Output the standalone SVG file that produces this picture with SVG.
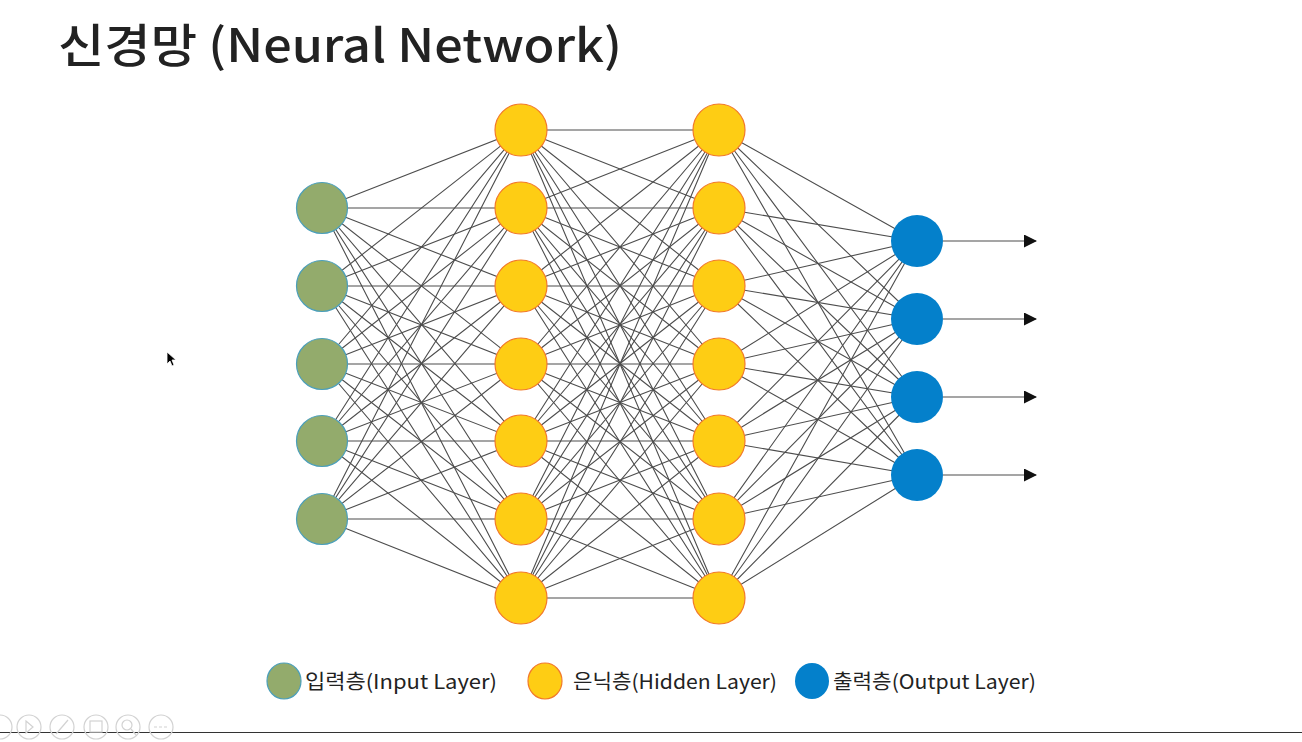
<svg xmlns="http://www.w3.org/2000/svg" width="1302" height="742" viewBox="0 0 1302 742">
<style>
.edge{fill:none;stroke:#4d4d4d;stroke-width:1.1}
.in{fill:#93AB6C;stroke:#4B9FBA;stroke-width:1.2}
.hid{fill:#FECD14;stroke:#F2792A;stroke-width:1.2}
.out{fill:#0480CB}
.title{font-family:"Noto Sans CJK KR","Noto Sans",sans-serif;font-size:46px;font-weight:500;fill:#222}
.leg{font-family:"Noto Sans CJK KR","Noto Sans",sans-serif;font-size:20px;fill:#222}
.ui{fill:none;stroke:#d2d2d2;stroke-width:1.2}
</style>
<defs>
<marker id="arr" markerWidth="13" markerHeight="13" refX="12" refY="6.5" orient="auto" markerUnits="userSpaceOnUse">
<path d="M0 0L13 6.5L0 13Z" fill="#111"/>
</marker>
</defs>
<rect width="1302" height="742" fill="#fff"/>
<text class="title" x="58" y="62" textLength="564" lengthAdjust="spacingAndGlyphs">신경망 (Neural Network)</text>

<g id="connectors">
<path class="edge" d="M322 208L521 130L322 208L521 208L322 208L521 286L322 208L521 364L322 208L521 441L322 208L521 519L322 208L521 598"/>
<path class="edge" d="M322 286L521 130L322 286L521 208L322 286L521 286L322 286L521 364L322 286L521 441L322 286L521 519L322 286L521 598"/>
<path class="edge" d="M322 364L521 130L322 364L521 208L322 364L521 286L322 364L521 364L322 364L521 441L322 364L521 519L322 364L521 598"/>
<path class="edge" d="M322 441L521 130L322 441L521 208L322 441L521 286L322 441L521 364L322 441L521 441L322 441L521 519L322 441L521 598"/>
<path class="edge" d="M322 519L521 130L322 519L521 208L322 519L521 286L322 519L521 364L322 519L521 441L322 519L521 519L322 519L521 598"/>
<path class="edge" d="M521 130L719 130L521 130L719 208L521 130L719 286L521 130L719 364L521 130L719 441L521 130L719 519L521 130L719 598"/>
<path class="edge" d="M521 208L719 130L521 208L719 208L521 208L719 286L521 208L719 364L521 208L719 441L521 208L719 519L521 208L719 598"/>
<path class="edge" d="M521 286L719 130L521 286L719 208L521 286L719 286L521 286L719 364L521 286L719 441L521 286L719 519L521 286L719 598"/>
<path class="edge" d="M521 364L719 130L521 364L719 208L521 364L719 286L521 364L719 364L521 364L719 441L521 364L719 519L521 364L719 598"/>
<path class="edge" d="M521 441L719 130L521 441L719 208L521 441L719 286L521 441L719 364L521 441L719 441L521 441L719 519L521 441L719 598"/>
<path class="edge" d="M521 519L719 130L521 519L719 208L521 519L719 286L521 519L719 364L521 519L719 441L521 519L719 519L521 519L719 598"/>
<path class="edge" d="M521 598L719 130L521 598L719 208L521 598L719 286L521 598L719 364L521 598L719 441L521 598L719 519L521 598L719 598"/>
<path class="edge" d="M719 130L917 241L719 130L917 319L719 130L917 397L719 130L917 475"/>
<path class="edge" d="M719 208L917 241L719 208L917 319L719 208L917 397L719 208L917 475"/>
<path class="edge" d="M719 286L917 241L719 286L917 319L719 286L917 397L719 286L917 475"/>
<path class="edge" d="M719 364L917 241L719 364L917 319L719 364L917 397L719 364L917 475"/>
<path class="edge" d="M719 441L917 241L719 441L917 319L719 441L917 397L719 441L917 475"/>
<path class="edge" d="M719 519L917 241L719 519L917 319L719 519L917 397L719 519L917 475"/>
<path class="edge" d="M719 598L917 241L719 598L917 319L719 598L917 397L719 598L917 475"/>
<line class="edge" x1="943" y1="241" x2="1036" y2="241" marker-end="url(#arr)"/>
<line class="edge" x1="943" y1="319" x2="1036" y2="319" marker-end="url(#arr)"/>
<line class="edge" x1="943" y1="397" x2="1036" y2="397" marker-end="url(#arr)"/>
<line class="edge" x1="943" y1="475" x2="1036" y2="475" marker-end="url(#arr)"/>
</g>

<g id="input-1"><circle class="in" cx="322" cy="208" r="25.5"/></g>
<g id="input-2"><circle class="in" cx="322" cy="286" r="25.5"/></g>
<g id="input-3"><circle class="in" cx="322" cy="364" r="25.5"/></g>
<g id="input-4"><circle class="in" cx="322" cy="441" r="25.5"/></g>
<g id="input-5"><circle class="in" cx="322" cy="519" r="25.5"/></g>

<g id="hidden1-1"><circle class="hid" cx="521" cy="130" r="26"/></g>
<g id="hidden1-2"><circle class="hid" cx="521" cy="208" r="26"/></g>
<g id="hidden1-3"><circle class="hid" cx="521" cy="286" r="26"/></g>
<g id="hidden1-4"><circle class="hid" cx="521" cy="364" r="26"/></g>
<g id="hidden1-5"><circle class="hid" cx="521" cy="441" r="26"/></g>
<g id="hidden1-6"><circle class="hid" cx="521" cy="519" r="26"/></g>
<g id="hidden1-7"><circle class="hid" cx="521" cy="598" r="26"/></g>

<g id="hidden2-1"><circle class="hid" cx="719" cy="130" r="26"/></g>
<g id="hidden2-2"><circle class="hid" cx="719" cy="208" r="26"/></g>
<g id="hidden2-3"><circle class="hid" cx="719" cy="286" r="26"/></g>
<g id="hidden2-4"><circle class="hid" cx="719" cy="364" r="26"/></g>
<g id="hidden2-5"><circle class="hid" cx="719" cy="441" r="26"/></g>
<g id="hidden2-6"><circle class="hid" cx="719" cy="519" r="26"/></g>
<g id="hidden2-7"><circle class="hid" cx="719" cy="598" r="26"/></g>

<g id="output-1"><circle class="out" cx="917" cy="241" r="26"/></g>
<g id="output-2"><circle class="out" cx="917" cy="319" r="26"/></g>
<g id="output-3"><circle class="out" cx="917" cy="397" r="26"/></g>
<g id="output-4"><circle class="out" cx="917" cy="475" r="26"/></g>

<g id="legend">
<ellipse class="in" cx="284" cy="681" rx="17" ry="18"/>
<text class="leg" x="305" y="689" textLength="192" lengthAdjust="spacingAndGlyphs">입력층(Input Layer)</text>
<ellipse class="hid" cx="545" cy="681" rx="17" ry="18"/>
<text class="leg" x="573" y="689" textLength="204" lengthAdjust="spacingAndGlyphs">은닉층(Hidden Layer)</text>
<ellipse class="out" cx="812" cy="681" rx="17" ry="18"/>
<text class="leg" x="833" y="689" textLength="203" lengthAdjust="spacingAndGlyphs">출력층(Output Layer)</text>
</g>

<line x1="0" y1="732.5" x2="1302" y2="732.5" stroke="#333" stroke-width="1"/>
<g id="player-ui">
<circle class="ui" cx="0" cy="727" r="12"/>
<circle class="ui" cx="29" cy="727" r="12"/>
<path class="ui" d="M26 721L33 727L26 733Z"/>
<circle class="ui" cx="62" cy="727" r="12"/>
<path class="ui" d="M56 734L68 720"/>
<circle class="ui" cx="96" cy="727" r="12"/>
<rect class="ui" x="90" y="721" width="12" height="11"/>
<circle class="ui" cx="128" cy="727" r="12"/>
<circle class="ui" cx="127" cy="725" r="5"/>
<path class="ui" d="M131 729L136 735"/>
<circle class="ui" cx="161" cy="727" r="12"/>
<path class="ui" d="M154 727h14" stroke-dasharray="3 2"/>
</g>
<path d="M167 352L167 364L170 361L172 366L174 365L172 360L176 360Z" fill="#000" stroke="#fff" stroke-width="0.8"/>
</svg>
